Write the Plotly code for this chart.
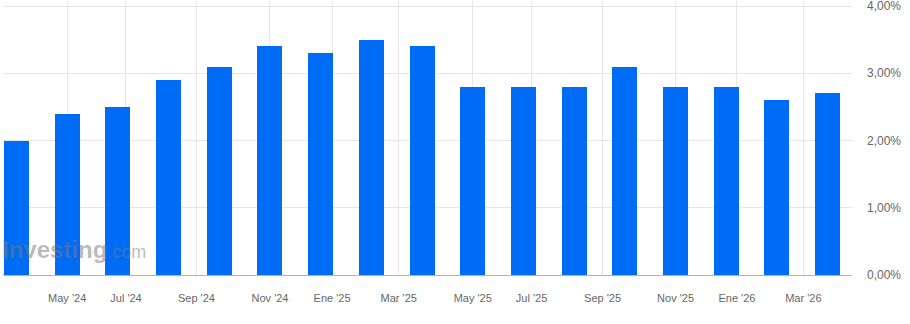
import plotly.graph_objects as go

# Data
values = [2.0, 2.4, 2.5, 2.9, 3.1, 3.4, 3.3, 3.5, 3.4, 2.8, 2.8, 2.8, 3.1, 2.8, 2.8, 2.6, 2.7]
tick_labels = ["May '24", "Jul '24", "Sep '24", "Nov '24", "Ene '25", "Mar '25",
               "May '25", "Jul '25", "Sep '25", "Nov '25", "Ene '26", "Mar '26"]
# tick positions in release-index units
tick_pos = [1.0, 2.16, 3.55, 5.0, 6.225, 7.54, 9.0, 10.16, 11.56, 13.0, 14.21, 15.52]
y_ticks = [0, 1, 2, 3, 4]
y_tick_text = [f"{v:.2f}".replace(".", ",") + "%" for v in y_ticks]

x_idx = list(range(len(values)))

fig = go.Figure()
fig.add_trace(go.Bar(
    x=x_idx, y=values, width=0.493,
    marker=dict(color="#006cf5", line=dict(width=0)),
    hoverinfo="skip",
))

fig.add_annotation(
    xref="paper", yref="paper", x=-0.003, y=0.035, xanchor="left", yanchor="bottom",
    text="<b>Investing</b><span style='font-size:18px;'>.com</span>",
    showarrow=False,
    font=dict(family="Liberation Sans, Arial", size=24, color="rgba(120,120,120,0.5)"),
)

fig.update_layout(
    width=910, height=324,
    margin=dict(l=3, r=58, t=1, b=49, autoexpand=False),
    paper_bgcolor="white", plot_bgcolor="white",
    showlegend=False,
    bargap=0,
    font=dict(family="Liberation Sans, Arial", color="#666666"),
    xaxis=dict(
        range=[-0.266, 16.48], automargin=False,
        tickmode="array", tickvals=tick_pos, ticktext=tick_labels,
        showgrid=True, gridcolor="#e6e6e6", gridwidth=1,
        showline=True, linecolor="#b3b3b3", linewidth=1,
        ticks="", ticklabelstandoff=13,
        tickfont=dict(size=11, color="#666666"),
        zeroline=False,
    ),
    yaxis=dict(
        range=[0, 4.075], side="right", automargin=False,
        tickmode="array", tickvals=y_ticks, ticktext=y_tick_text,
        showgrid=True, gridcolor="#e6e6e6", gridwidth=1,
        zeroline=False, showline=False,
        ticks="", ticklabelstandoff=14, ticklabeloverflow="allow",
        tickfont=dict(size=12, color="#666666"),
    ),
)

fig.write_html("out.html")
